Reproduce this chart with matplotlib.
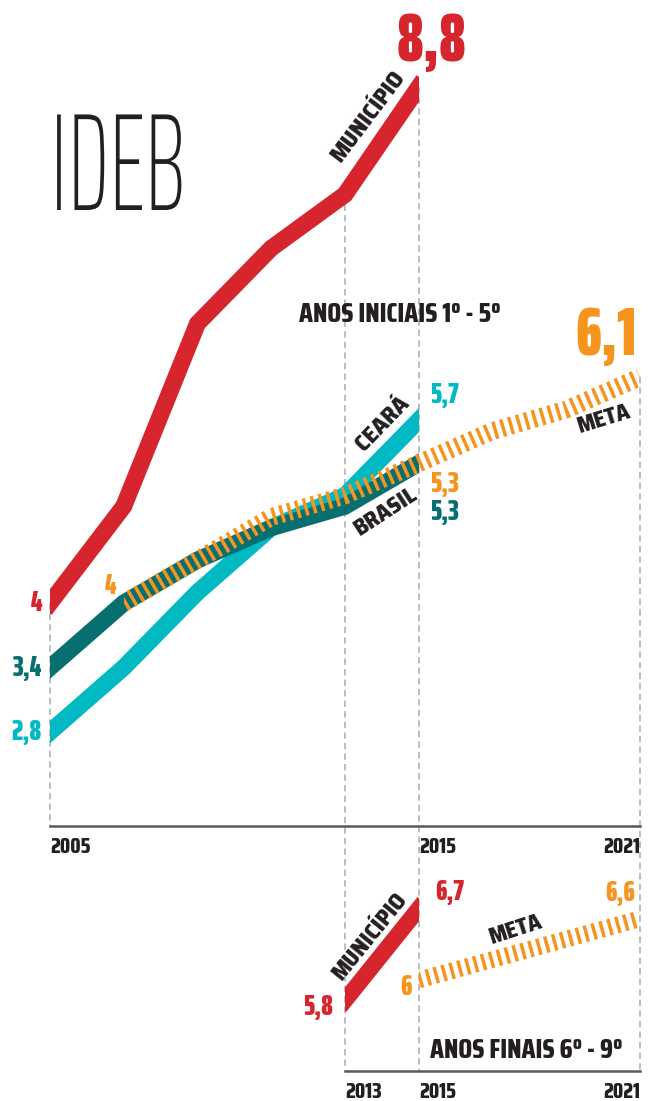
import matplotlib
matplotlib.use('Agg')
import matplotlib.pyplot as plt
from matplotlib import font_manager
from matplotlib.patches import Rectangle
from matplotlib.patheffects import AbstractPathEffect
from matplotlib.transforms import Affine2D

plt.rcParams['lines.scale_dashes'] = False

# ---------------- data ----------------
years_top = [2005, 2007, 2009, 2011, 2013, 2015]
municipio_top = [4.0, 4.9, 6.6, 7.3, 7.8, 8.8]
ceara_top = [2.8, 3.4, 4.1, 4.7, 5.0, 5.7]
brasil_top = [3.4, 4.0, 4.4, 4.7, 4.9, 5.3]
meta_years_top = [2007, 2009, 2011, 2013, 2015, 2017, 2019, 2021]
meta_top = [4.0, 4.4, 4.8, 5.0, 5.3, 5.6, 5.8, 6.1]

years_bottom = [2013, 2015]
municipio_bottom = [5.8, 6.7]
meta_years_bottom = [2015, 2017, 2019, 2021]
meta_bottom = [6.0, 6.2, 6.4, 6.6]

axis_years_top = [2005, 2015, 2021]
axis_years_bottom = [2013, 2015, 2021]

title = 'IDEB'
subtitle_top = 'ANOS INICIAIS 1º - 5º'
subtitle_bottom = 'ANOS FINAIS 6º - 9º'
series_names = ['MUNICÍPIO', 'CEARÁ', 'BRASIL', 'META']

# ---------------- style ----------------
RED = '#d6252c'
CYAN = '#00b9c3'
TEAL = '#086f70'
ORANGE = '#f7941e'
INK = '#231f20'
GRID = '#a9abae'
AXIS = '#58595b'

names = {f.name for f in font_manager.fontManager.ttflist}


def pick(*cands):
    for c in cands:
        if c in names:
            return c
    return 'DejaVu Sans'


HEAVY = pick('Saira ExtraCondensed', 'Barlow Condensed', 'Roboto Condensed')
MID = pick('Saira Condensed', 'Barlow Condensed', 'Roboto Condensed')
LABEL = pick('Saira SemiCondensed', 'Barlow Semi Condensed', 'Roboto Condensed')
THIN = pick('Saira ExtraCondensed', 'Barlow Condensed', 'Roboto')

W, H = 655, 1101
fig = plt.figure(figsize=(W / 100, H / 100), dpi=100)

X0, X1 = 50, 640
ax1 = fig.add_axes([X0 / W, 1 - 826 / H, (X1 - X0) / W, 826 / H])
ax1.set_xlim(2005, 2021)
ax1.set_ylim(1.926, 9.609)
ax2 = fig.add_axes([X0 / W, 1 - 1071 / H, (X1 - X0) / W, (1071 - 860) / H])
ax2.set_xlim(2005, 2021)
ax2.set_ylim(5.108, 7.176)

for ax in (ax1, ax2):
    ax.patch.set_visible(False)
    for s in ('top', 'left', 'right'):
        ax.spines[s].set_visible(False)
    ax.spines['bottom'].set_color(AXIS)
    ax.spines['bottom'].set_linewidth(1.8)
    ax.set_xticks([])
    ax.set_yticks([])
ax2.spines['bottom'].set_bounds(2013, 2021)


def br(v):
    return ('%g' % v).replace('.', ',')


def band(ax, xs, ys, color, x0, x1, z, lw=12.2, dashes=None):
    line, = ax.plot(xs, ys, color=color, lw=lw, solid_capstyle='projecting',
                    solid_joinstyle='miter', zorder=z)
    if dashes is not None:
        line.set_dashes(dashes)
        line.set_dash_capstyle('butt')
        line.set_dash_joinstyle('miter')
    clip = Rectangle((x0, -100), x1 - x0, 200, transform=ax.transData)
    line.set_clip_path(clip)
    return line


# ---------------- dashed guides ----------------
ydisp = ax2.transAxes.transform((0, 0))[1]
v_bottom = ax1.transData.inverted().transform((0, ydisp))[1]
guide_kw = dict(color=GRID, lw=1.1, dashes=(4.6, 3.0), clip_on=False, zorder=1)
ax1.plot([2005, 2005], [municipio_top[0], ax1.get_ylim()[0]], **guide_kw)
ax1.plot([2013, 2013], [municipio_top[4], v_bottom], **guide_kw)
ax1.plot([2015, 2015], [municipio_top[-1], v_bottom], **guide_kw)
ax1.plot([2021, 2021], [meta_top[-1], v_bottom], **guide_kw)

# ---------------- bands ----------------
band(ax1, years_top, municipio_top, RED, 2005, 2015, 3)
band(ax1, years_top, ceara_top, CYAN, 2005, 2015, 3)
band(ax1, years_top, brasil_top, TEAL, 2005, 2015, 4)
band(ax1, meta_years_top, meta_top, ORANGE, 2007, 2021, 5, lw=12.8, dashes=(2.5, 3.4))

band(ax2, years_bottom, municipio_bottom, RED, 2013, 2015, 3, lw=11.8)
band(ax2, meta_years_bottom, meta_bottom, ORANGE, 2015, 2021, 5, lw=12.0, dashes=(2.5, 3.4))


# ---------------- value labels ----------------
def vlabel(ax, x, y, txt, color, dx, dy, ha, size=21, va='center', weight=900):
    ax.annotate(txt, xy=(x, y), xytext=(dx, dy), textcoords='offset pixels', color=color,
                ha=ha, va=va, family=HEAVY, fontweight=weight, fontsize=size, zorder=7,
                annotation_clip=False)


vlabel(ax1, 2005, municipio_top[0], br(municipio_top[0]), RED, -8, 0, 'right')
vlabel(ax1, 2005, brasil_top[0], br(brasil_top[0]), TEAL, -8, 0, 'right')
vlabel(ax1, 2005, ceara_top[0], br(ceara_top[0]), CYAN, -8, 0, 'right')
vlabel(ax1, 2007, meta_top[0], br(meta_top[0]), ORANGE, -8, 17, 'right')
vlabel(ax1, 2015, ceara_top[-1], br(ceara_top[-1]), CYAN, 11, 25, 'left')
vlabel(ax1, 2015, meta_top[4], br(meta_top[4]), ORANGE, 11, -21, 'left')
vlabel(ax1, 2015, brasil_top[-1], br(brasil_top[-1]), TEAL, 11, -49, 'left')
vlabel(ax1, 2015, municipio_top[-1], br(municipio_top[-1]), RED, 13, 26, 'center',
       size=48, va='baseline')
vlabel(ax1, 2021, meta_top[-1], br(meta_top[-1]), ORANGE, -3, 22, 'right',
       size=48, va='baseline')

vlabel(ax2, 2015, municipio_bottom[-1], br(municipio_bottom[-1]), RED, 16, 17, 'left')
vlabel(ax2, 2013, municipio_bottom[0], br(municipio_bottom[0]), RED, -12, -7, 'right')
vlabel(ax2, 2015, meta_bottom[0], br(meta_bottom[0]), ORANGE, -7, -7, 'right')
vlabel(ax2, 2021, meta_bottom[-1], br(meta_bottom[-1]), ORANGE, -5, 26, 'right')

# ---------------- axis year labels ----------------
for ax, yrs in ((ax1, axis_years_top), (ax2, axis_years_bottom)):
    for i, yr in enumerate(yrs):
        ha = 'right' if i == len(yrs) - 1 else 'left'
        ax.annotate(str(yr), xy=(yr, 0), xycoords=('data', 'axes fraction'),
                    xytext=(0, -27), textcoords='offset pixels', ha=ha, va='baseline',
                    family=MID, fontweight=800, fontsize=15.5, color=INK,
                    annotation_clip=False)


# ---------------- series names & subtitles ----------------
def ftext(px, py, txt, **kw):
    return fig.text(px / W, 1 - py / H, txt, **kw)


rot_kw = dict(family=LABEL, fontweight=800, color=INK, ha='center', va='center',
              rotation_mode='anchor', zorder=7)
ftext(368, 116, series_names[0], rotation=53, fontsize=17, **rot_kw)
ftext(383, 424, series_names[1], rotation=46, fontsize=17, **rot_kw)
ftext(386, 512, series_names[2], rotation=33, fontsize=16.5, **rot_kw)
ftext(604, 419, series_names[3], rotation=17, fontsize=16, **rot_kw)
ftext(370, 936, series_names[0], rotation=51, fontsize=16.5, **rot_kw)
ftext(516, 930, series_names[3], rotation=18, fontsize=16, **rot_kw)

ftext(299, 322, subtitle_top, family=MID, fontweight=800, fontsize=19.8, color=INK,
      ha='left', va='baseline')
ftext(430, 1058, subtitle_bottom, family=MID, fontweight=800, fontsize=19.8, color=INK,
      ha='left', va='baseline')


# ---------------- thin condensed title ----------------
class HScale(AbstractPathEffect):
    def __init__(self, sx, x0):
        super().__init__()
        self.sx = sx
        self.x0 = x0

    def draw_path(self, renderer, gc, tpath, affine, rgbFace=None):
        aff = affine + Affine2D().translate(-self.x0, 0).scale(self.sx, 1).translate(self.x0, 0)
        renderer.draw_path(gc, tpath, aff, rgbFace)


t = ftext(50, 210, title, family=THIN, fontweight=250, fontsize=100, color=INK,
          ha='left', va='baseline')
fig.canvas.draw()
wext = t.get_window_extent(fig.canvas.get_renderer()).width
sx = min(1.0, 136.0 / wext)
if sx < 0.98:
    t.set_path_effects([HScale(sx, 50.0)])

fig.savefig('out.png', dpi=100)
